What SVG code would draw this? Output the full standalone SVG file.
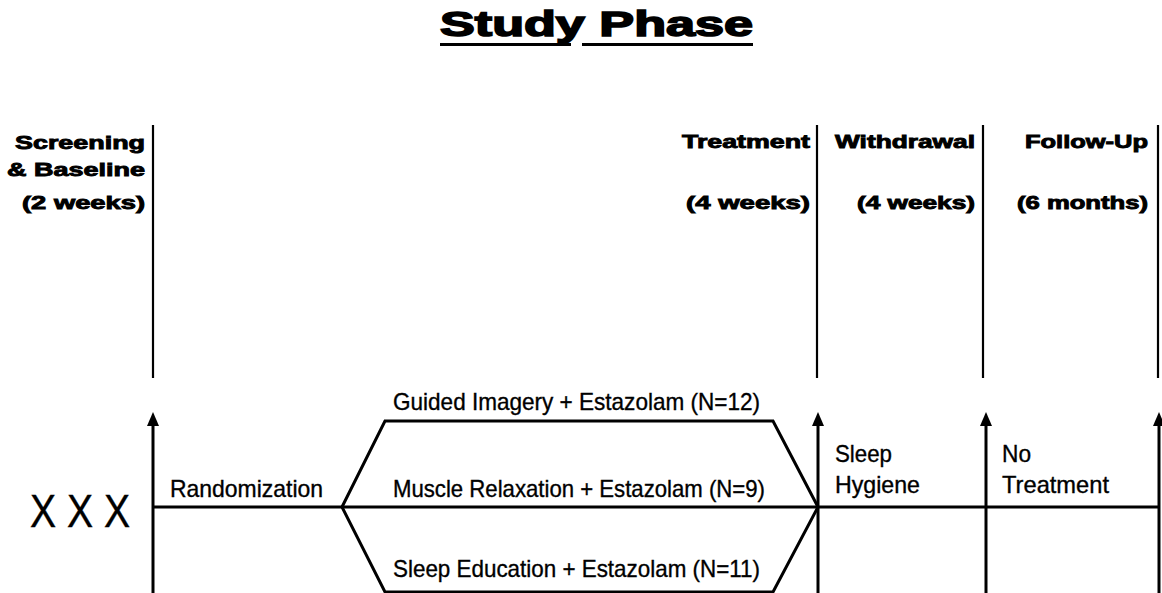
<svg xmlns="http://www.w3.org/2000/svg" width="1162" height="593" viewBox="0 0 1162 593">
<defs>
<marker id="ah" viewBox="0 0 14 12" refX="8" refY="6" markerWidth="14" markerHeight="12" markerUnits="userSpaceOnUse" orient="auto">
<path d="M0,0 L14,6 L0,12 Z" fill="#000"/>
</marker>
<style>
.title{font-family:"Liberation Sans",Arial,sans-serif;font-weight:bold;font-size:35px;fill:#000;stroke:#000;stroke-width:1.6px}
.hdr{font-family:"Liberation Sans",Arial,sans-serif;font-weight:bold;font-size:18.5px;fill:#000;stroke:#000;stroke-width:0.9px}
.lbl{font-family:"Liberation Sans Narrow","Liberation Sans",Arial,sans-serif;font-size:24px;fill:#000;stroke:#000;stroke-width:0.35px}
.xxx{font-family:"Liberation Sans Narrow","Liberation Sans",Arial,sans-serif;font-size:47px;fill:#000;stroke:#000;stroke-width:0.4px}
.phase{stroke:#000;stroke-width:2.2;fill:none}
.axis{stroke:#000;stroke-width:3;fill:none}
.arm{stroke:#000;stroke-width:3;fill:none;stroke-linejoin:miter}
</style>
</defs>
<rect width="1162" height="593" fill="#fff"/>

<g id="title">
<text class="title" x="440" y="36" textLength="313" lengthAdjust="spacingAndGlyphs">Study Phase</text>
<line x1="440" y1="44.5" x2="571" y2="44.5" stroke="#000" stroke-width="3"/>
<line x1="582" y1="44.5" x2="753" y2="44.5" stroke="#000" stroke-width="3"/>
</g>

<g id="phase-screening">
<text class="hdr" x="15" y="149" textLength="130" lengthAdjust="spacingAndGlyphs">Screening</text>
<text class="hdr" x="7" y="176" textLength="138" lengthAdjust="spacingAndGlyphs">&amp; Baseline</text>
<text class="hdr" x="22" y="209" textLength="123" lengthAdjust="spacingAndGlyphs">(2 weeks)</text>
</g>
<g id="phase-treatment">
<text class="hdr" x="682" y="148" textLength="128" lengthAdjust="spacingAndGlyphs">Treatment</text>
<text class="hdr" x="686" y="209" textLength="124" lengthAdjust="spacingAndGlyphs">(4 weeks)</text>
</g>
<g id="phase-withdrawal">
<text class="hdr" x="835" y="148" textLength="140" lengthAdjust="spacingAndGlyphs">Withdrawal</text>
<text class="hdr" x="857" y="209" textLength="118" lengthAdjust="spacingAndGlyphs">(4 weeks)</text>
</g>
<g id="phase-followup">
<text class="hdr" x="1025" y="148" textLength="123" lengthAdjust="spacingAndGlyphs">Follow-Up</text>
<text class="hdr" x="1017" y="209" textLength="131" lengthAdjust="spacingAndGlyphs">(6 months)</text>
</g>

<g id="phase-dividers">
<line class="phase" x1="153" y1="125" x2="153" y2="378"/>
<line class="phase" x1="817" y1="125" x2="817" y2="378"/>
<line class="phase" x1="983" y1="125" x2="983" y2="378"/>
<line class="phase" x1="1158" y1="125" x2="1158" y2="378"/>
</g>

<g id="connectors">
<line class="axis" x1="153" y1="593" x2="153" y2="418" marker-end="url(#ah)"/>
<line class="axis" x1="818" y1="593" x2="818" y2="418" marker-end="url(#ah)"/>
<line class="axis" x1="986" y1="593" x2="986" y2="418" marker-end="url(#ah)"/>
<line class="axis" x1="1159" y1="593" x2="1159" y2="418" marker-end="url(#ah)"/>
<line class="axis" x1="153" y1="507" x2="1160" y2="507"/>
<polyline class="arm" points="342,507 385,421 773,421 818,507"/>
<polyline class="arm" points="342,507 385,592 773,592 818,507"/>
</g>

<g id="baseline-marks">
<text class="xxx" x="30" y="527" textLength="100" lengthAdjust="spacingAndGlyphs">X X X</text>
</g>
<g id="randomization">
<text class="lbl" x="170" y="497" textLength="153" lengthAdjust="spacingAndGlyphs">Randomization</text>
</g>
<g id="arm-guided">
<text class="lbl" x="393" y="410" textLength="367" lengthAdjust="spacingAndGlyphs">Guided Imagery + Estazolam (N=12)</text>
</g>
<g id="arm-muscle">
<text class="lbl" x="393" y="497" textLength="372" lengthAdjust="spacingAndGlyphs">Muscle Relaxation + Estazolam (N=9)</text>
</g>
<g id="arm-education">
<text class="lbl" x="393" y="577" textLength="367" lengthAdjust="spacingAndGlyphs">Sleep Education + Estazolam (N=11)</text>
</g>
<g id="sleep-hygiene">
<text class="lbl" x="835" y="462" textLength="57" lengthAdjust="spacingAndGlyphs">Sleep</text>
<text class="lbl" x="835" y="493" textLength="85" lengthAdjust="spacingAndGlyphs">Hygiene</text>
</g>
<g id="no-treatment">
<text class="lbl" x="1002" y="462" textLength="29" lengthAdjust="spacingAndGlyphs">No</text>
<text class="lbl" x="1002" y="493" textLength="107" lengthAdjust="spacingAndGlyphs">Treatment</text>
</g>
</svg>
